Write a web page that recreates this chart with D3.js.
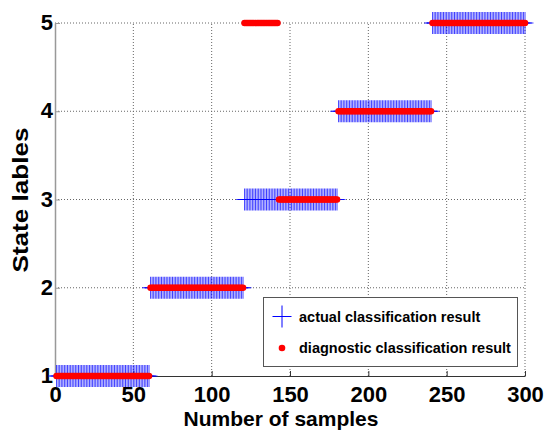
<!DOCTYPE html>
<html><head><meta charset="utf-8">
<script src="https://cdn.jsdelivr.net/npm/d3@7/dist/d3.min.js"></script>
<style>
html,body{margin:0;padding:0;background:#fff;}
svg text{font-family:"Liberation Sans",Arial,sans-serif;font-weight:bold;fill:#000;}
</style></head>
<body>
<svg id="chart" width="545" height="433"></svg>
<script>
// ---- data (run-length encoded per sample index 1..300) ----
const actualStates = [1, 2, 3, 4, 5];
const actualRuns   = [60, 60, 60, 60, 60];
const diagStates   = [1, 2, 5, 3, 4, 5];
const diagRuns     = [60, 60, 22, 38, 60, 60];
const xTicks = [0, 50, 100, 150, 200, 250, 300];
const yTicks = [1, 2, 3, 4, 5];
const xLabel = "Number of samples";
const yLabel = "State lables";
const legendLabels = ["actual classification result", "diagnostic classification result"];

function expand(states, runs){
  const out = []; let i = 1;
  states.forEach((s, k) => { for (let j = 0; j < runs[k]; j++) out.push({x: i++, y: s}); });
  return out;
}
const actual = expand(actualStates, actualRuns);
const diag = expand(diagStates, diagRuns);

const svg = d3.select("#chart");
const x = d3.scaleLinear().domain([0, 300]).range([55, 525]);
const y = d3.scaleLinear().domain([1, 5]).range([376, 23]);

// grid
const grid = svg.append("g").attr("stroke", "#666").attr("stroke-width", 1).attr("stroke-dasharray", "1,2");
grid.selectAll("line.gx").data(xTicks.filter(d => d > 0)).enter().append("line")
  .attr("x1", d => x(d)).attr("x2", d => x(d)).attr("y1", y(1)).attr("y2", y(5));
grid.selectAll("line.gy").data(yTicks.filter(d => d > 1)).enter().append("line")
  .attr("y1", d => y(d)).attr("y2", d => y(d)).attr("x1", x(0)).attr("x2", x(300));

// axes
const xAxis = d3.axisBottom(x).tickValues(xTicks).tickFormat(d3.format("d")).tickSizeInner(-5).tickSizeOuter(0);
const gx = svg.append("g").attr("transform", `translate(0,${y(1)})`).call(xAxis);
gx.select(".domain").attr("stroke", "#333").attr("stroke-width", 1.2);
gx.selectAll(".tick line").attr("stroke", "#333");
gx.selectAll(".tick text").attr("font-size", 22).attr("dy", "0.72em").attr("y", 10);

const yAxis = d3.axisLeft(y).tickValues(yTicks).tickFormat(d3.format("d")).tickSizeInner(-5).tickSizeOuter(0);
const gy = svg.append("g").attr("transform", `translate(${x(0)},0)`).call(yAxis);
gy.select(".domain").attr("stroke", "#999").attr("stroke-width", 1.5);
gy.selectAll(".tick line").attr("stroke", "#999");
gy.selectAll(".tick text").attr("font-size", 22).attr("x", -2).attr("dy", "0.3em");

// actual: blue plus markers
const hw = 8.5, hh = 11;
svg.append("g").attr("stroke", "#0000ff").attr("stroke-width", 0.75).attr("fill", "none")
  .selectAll("path").data(actual).enter().append("path")
  .attr("d", d => { const cx = x(d.x), cy = y(d.y);
    return `M${cx - hw},${cy}H${cx + hw}M${cx},${cy - hh}V${cy + hh}`; });

// diagnostic: red dots
svg.append("g").attr("fill", "#ff0000")
  .selectAll("circle").data(diag).enter().append("circle")
  .attr("cx", d => x(d.x)).attr("cy", d => y(d.y)).attr("r", 3.3);

// labels
svg.append("text").attr("x", 281).attr("y", 426).attr("text-anchor", "middle")
  .attr("font-size", 21).text(xLabel);
svg.append("text").attr("transform", "translate(28,200) rotate(-90)").attr("text-anchor", "middle")
  .attr("font-size", 22).attr("textLength", 145).attr("lengthAdjust", "spacingAndGlyphs").text(yLabel);

// legend
const lg = svg.append("g");
lg.append("rect").attr("x", 263.5).attr("y", 297.5).attr("width", 254).attr("height", 69)
  .attr("fill", "#fff").attr("stroke", "#555").attr("stroke-width", 1);
lg.append("path").attr("d", `M${282 - 9.5},316.5H${282 + 9.5}M282,${316.5 - 11}V${316.5 + 11}`)
  .attr("stroke", "#0000ff").attr("stroke-width", 1);
lg.append("circle").attr("cx", 282).attr("cy", 348).attr("r", 3.3).attr("fill", "#ff0000");
lg.selectAll("text").data(legendLabels).enter().append("text")
  .attr("x", 299).attr("y", (d, i) => 321.5 + i * 31.5).attr("font-size", 14.5).text(d => d);
</script>
</body></html>
